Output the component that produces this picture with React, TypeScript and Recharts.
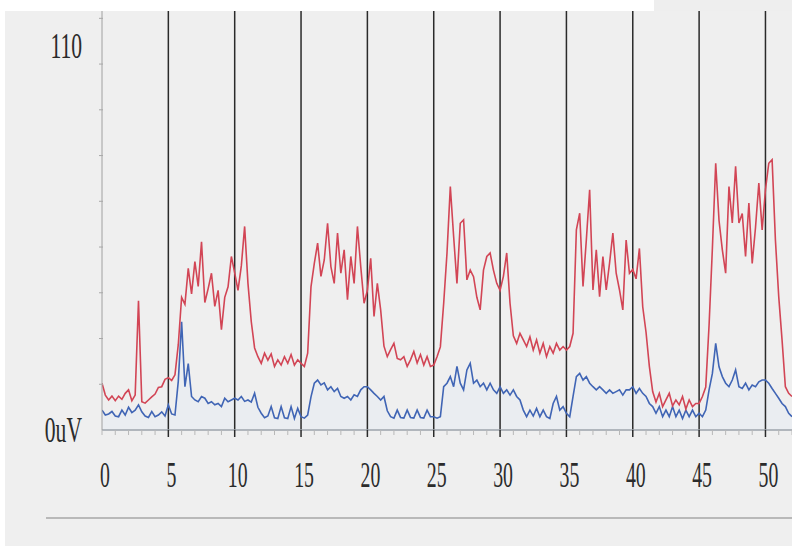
import React from 'react';
import {
  ComposedChart,
  Line,
  Area,
  XAxis,
  YAxis,
  ReferenceLine,
} from 'recharts';

// sampling step of the recording, seconds
const SAMPLE_STEP = 0.25;

// red channel, one row per 5 s (20 samples)
const RED_VALUES = [
  13.4, 10.0, 8.6, 9.7, 8.4, 9.7, 8.8, 10.5, 11.5, 8.4, 10.0, 37.0, 8.1, 7.7, 8.6, 9.5, 10.3, 12.2, 12.4, 14.5,
  15.0, 14.2, 15.8, 24.5, 38.0, 36.0, 46.3, 39.0, 48.2, 41.1, 53.9, 36.5, 40.5, 44.9, 35.4, 40.0, 28.7, 38.0, 41.0, 49.7,
  45.0, 40.0, 47.0, 58.3, 42.0, 31.0, 23.5, 21.0, 19.1, 22.0, 20.0, 21.8, 18.2, 20.1, 18.6, 21.0, 19.1, 21.6, 18.6, 20.1,
  19.1, 18.2, 22.0, 41.0, 47.7, 53.5, 44.0, 48.7, 59.2, 46.8, 42.0, 56.4, 44.9, 51.6, 37.3, 49.7, 42.0, 58.3, 46.8, 36.3,
  40.0, 49.2, 32.5, 42.0, 34.4, 24.0, 21.0, 23.0, 24.8, 20.5, 20.1, 21.0, 18.2, 20.1, 22.5, 19.2, 21.6, 18.6, 21.0, 18.2,
  18.6, 21.0, 23.8, 36.3, 50.7, 69.7, 55.4, 42.0, 59.2, 60.2, 43.0, 45.8, 43.9, 38.0, 34.4, 45.8, 49.7, 50.7, 45.8, 42.0,
  40.0, 44.0, 50.7, 36.3, 27.0, 24.8, 27.7, 25.8, 23.9, 26.7, 22.9, 25.8, 22.0, 24.8, 21.0, 23.9, 22.0, 24.8, 22.9, 23.9,
  22.9, 23.9, 27.7, 57.3, 62.1, 41.1, 54.4, 68.8, 40.1, 51.6, 38.2, 49.7, 40.1, 47.8, 56.4, 44.9, 40.1, 34.4, 54.4, 44.9,
  46.0, 43.3, 52.0, 35.3, 28.0, 18.2, 11.0, 8.0, 10.5, 6.7, 8.6, 10.5, 6.9, 8.6, 7.2, 9.6, 6.0, 8.6, 6.7, 7.6,
  7.6, 9.6, 12.3, 30.0, 52.0, 76.4, 60.0, 51.6, 44.9, 69.7, 59.3, 75.5, 59.3, 62.0, 49.7, 65.0, 47.7, 58.0, 70.7, 57.3,
  68.8, 76.4, 77.4, 54.4, 38.2, 25.8, 12.4, 10.5, 9.6,
];

// blue channel, same sampling
const BLUE_VALUES = [
  5.7, 4.3, 4.6, 5.3, 4.0, 3.8, 5.7, 4.3, 6.5, 5.0, 5.7, 7.2, 5.2, 4.0, 3.6, 5.3, 3.8, 4.3, 5.2, 4.0,
  7.2, 4.6, 4.3, 14.0, 31.0, 12.4, 19.0, 9.6, 8.6, 8.1, 9.6, 9.1, 7.6, 8.1, 7.2, 7.6, 6.7, 9.1, 8.1, 8.6,
  9.1, 8.6, 9.6, 8.2, 8.6, 8.0, 10.5, 6.5, 4.8, 3.5, 4.0, 6.7, 3.5, 3.3, 6.7, 3.5, 3.3, 6.7, 3.3, 6.2,
  3.8, 3.4, 4.3, 9.5, 13.4, 14.3, 12.9, 13.5, 11.5, 12.4, 11.0, 11.9, 9.6, 9.1, 9.6, 8.6, 10.1, 9.6, 11.5, 12.4,
  12.4, 11.5, 10.5, 9.6, 8.6, 9.6, 5.5, 3.8, 3.4, 5.7, 3.6, 3.4, 5.7, 3.6, 3.4, 5.7, 3.6, 3.4, 5.7, 3.8,
  3.8, 3.4, 3.8, 12.4, 13.4, 15.3, 12.4, 18.2, 13.4, 11.5, 17.2, 19.1, 13.4, 14.3, 12.4, 13.4, 11.5, 13.4, 11.5, 10.5,
  12.4, 10.5, 11.5, 10.0, 11.5, 9.6, 8.6, 5.7, 3.8, 5.7, 4.0, 6.2, 3.8, 5.7, 3.8, 3.3, 7.6, 9.6, 5.7, 6.7,
  4.8, 3.8, 9.6, 15.3, 16.2, 14.3, 15.3, 13.4, 12.4, 11.5, 12.4, 11.5, 10.5, 11.5, 10.5, 11.0, 11.5, 10.0, 11.5, 11.5,
  12.4, 10.5, 11.9, 10.5, 9.6, 7.6, 6.7, 4.8, 6.7, 3.8, 5.7, 3.8, 6.7, 3.8, 5.7, 3.3, 5.7, 3.8, 5.7, 3.8,
  4.8, 3.8, 5.7, 11.5, 16.2, 24.8, 18.1, 15.3, 13.4, 12.4, 14.3, 17.2, 12.4, 11.9, 13.4, 11.5, 12.9, 12.4, 13.8, 14.3,
  14.3, 13.4, 11.9, 10.5, 9.1, 7.6, 6.7, 4.8, 3.8,
];

const X_TICKS = [
  0, 1, 2, 3, 4, 5, 6, 7, 8, 9, 10, 11, 12, 13, 14, 15, 16, 17, 18, 19, 20, 21, 22, 23, 24, 25, 26,
  27, 28, 29, 30, 31, 32, 33, 34, 35, 36, 37, 38, 39, 40, 41, 42, 43, 44, 45, 46, 47, 48, 49, 50, 51, 52,
];
const GRID_X = [5, 10, 15, 20, 25, 30, 35, 40, 45, 50];
const Y_TICKS = [0, 13.1, 26.2, 39.3, 52.4, 65.5, 78.6, 91.7, 104.8, 110, 117.9];
const Y_LABELS: Record<number, string> = { 0: '0uV', 110: '110' };

const data = RED_VALUES.map((red, i) => ({
  t: i * SAMPLE_STEP,
  red,
  blue: BLUE_VALUES[i],
}));

const FONT = "'Liberation Serif', 'Times New Roman', serif";

const XTick = (props: any) => {
  const { x, y, payload } = props;
  const v = payload.value;
  const major = v % 5 === 0;
  const dark = major && v > 0;
  return (
    <g>
      <line
        x1={x}
        x2={x}
        y1={y}
        y2={y + (dark ? 7 : 5)}
        stroke={dark ? '#2a2a2a' : '#b8b8b8'}
        strokeWidth={dark ? 1.5 : 1}
      />
      {major && (
        <text
          transform={`translate(${x + 3},${y + 57}) scale(0.55,1)`}
          textAnchor="middle"
          fontFamily={FONT}
          fontSize={36}
          fill="#2b2b2b"
        >
          {v}
        </text>
      )}
    </g>
  );
};

const YTick = (props: any) => {
  const { x, y, payload } = props;
  const label = Y_LABELS[payload.value];
  if (label) {
    return (
      <text
        transform={`translate(${x - 20},${y + 12}) scale(0.6,1)`}
        textAnchor="end"
        fontFamily={FONT}
        fontSize={36}
        fill="#2b2b2b"
      >
        {label}
      </text>
    );
  }
  return <line x1={x - 3} x2={x + 1} y1={y} y2={y} stroke="#a8a8a8" />;
};

const App: React.FC = () => {
  return (
    <div
      style={{
        position: 'absolute',
        left: 0,
        top: 0,
        width: 792,
        height: 546,
        background: '#ffffff',
        overflow: 'hidden',
      }}
    >
      <div style={{ position: 'absolute', left: 5, top: 11, width: 787, height: 535, background: '#efefef' }} />
      <div style={{ position: 'absolute', left: 654, top: 0, width: 138, height: 11, background: '#eeeeee' }} />
      <div style={{ position: 'absolute', left: 46, top: 517, width: 746, height: 2, background: '#b9b9b9' }} />
      <div style={{ position: 'absolute', left: 0, top: 0 }}>
        <ComposedChart
          width={792}
          height={546}
          data={data}
          margin={{ top: 11, right: 0, bottom: 0, left: 42 }}
        >
          <XAxis
            dataKey="t"
            type="number"
            domain={[0, 52]}
            ticks={X_TICKS}
            interval={0}
            height={116}
            tickSize={0}
            tickMargin={0}
            tickLine={false}
            tick={<XTick />}
            axisLine={{ stroke: '#9ca3ab', strokeWidth: 1.5 }}
            allowDataOverflow
          />
          <YAxis
            type="number"
            domain={[0, 120]}
            ticks={Y_TICKS}
            interval={0}
            width={60}
            tickSize={0}
            tickMargin={0}
            tickLine={false}
            tick={<YTick />}
            axisLine={{ stroke: '#a0a0a0', strokeWidth: 1 }}
            allowDataOverflow
          />
          {GRID_X.map((g) => (
            <ReferenceLine key={g} x={g} stroke="#2a2a2a" strokeWidth={1.5} />
          ))}
          <Area
            dataKey="blue"
            type="linear"
            stroke="none"
            fill="#dde7f7"
            fillOpacity={0.25}
            isAnimationActive={false}
          />
          <Line
            dataKey="blue"
            type="linear"
            stroke="#4065b5"
            strokeWidth={1.6}
            dot={false}
            isAnimationActive={false}
          />
          <Line
            dataKey="red"
            type="linear"
            stroke="#d24555"
            strokeWidth={1.6}
            dot={false}
            isAnimationActive={false}
          />
        </ComposedChart>
      </div>
    </div>
  );
};

export default App;
